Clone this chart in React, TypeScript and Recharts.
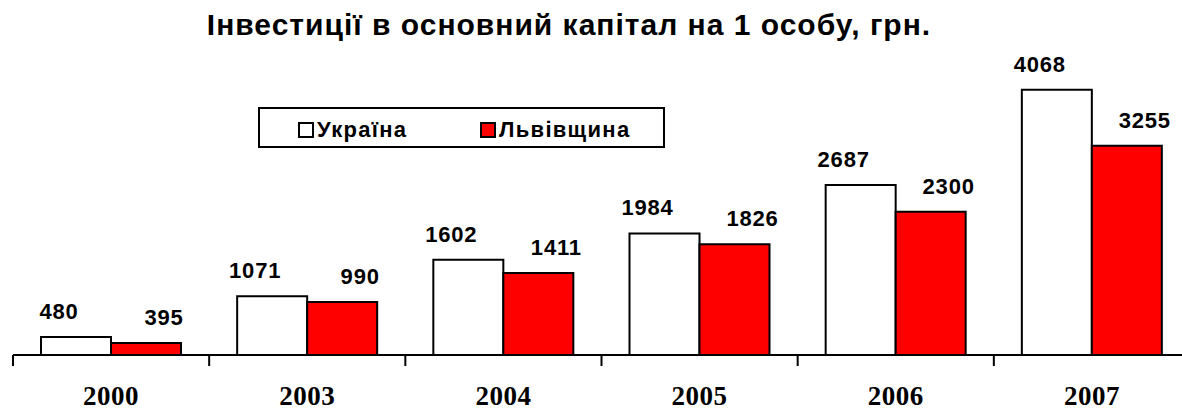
import { BarChart, Bar, XAxis, YAxis, LabelList } from 'recharts';

// Дані з діаграми
const years = ['2000', '2003', '2004', '2005', '2006', '2007'];
const ukraine = [480, 1071, 1602, 1984, 2687, 4068];
const lviv = [395, 990, 1411, 1826, 2300, 3255];
const seriesNames = ['Україна', 'Львівщина'];

const chartData = years.map((year, i) => ({
  year,
  ukraine: ukraine[i],
  lviv: lviv[i],
}));

const CHART_W = 1190;
const CHART_H = 412;
const LEFT = 13;
const BAND = (CHART_W - LEFT) / years.length;
const SANS = '"Liberation Sans", Arial, sans-serif';
const SERIF = '"Liberation Serif", "Times New Roman", serif';

// підпис значення над стовпцем, трохи зсунутий убік
const makeLabel = (dx: number) => (props: any) => {
  const { x, y, width, value } = props;
  return (
    <text
      x={x + width / 2 + dx}
      y={y - 18}
      textAnchor="middle"
      fontFamily={SANS}
      fontWeight="bold"
      fontSize={22}
      letterSpacing={0.8}
      fill="#000"
    >
      {value}
    </text>
  );
};

// рік під віссю + засічки між категоріями
const YearTick = (props: any) => {
  const { x, y, payload, index } = props;
  const left = x - BAND / 2;
  return (
    <g>
      <line x1={left} y1={y} x2={left} y2={y + 11} stroke="#000" strokeWidth={2} />
      {index === years.length - 1 && (
        <line x1={x + BAND / 2} y1={y} x2={x + BAND / 2} y2={y + 11} stroke="#000" strokeWidth={2} />
      )}
      <text
        x={x}
        y={y + 50}
        textAnchor="middle"
        fontFamily={SERIF}
        fontWeight="bold"
        fontSize={27}
        letterSpacing={0.5}
        fill="#000"
      >
        {payload.value}
      </text>
    </g>
  );
};

const legendItem = (name: string, color: string, left: number) => (
  <div
    style={{
      position: 'absolute',
      left,
      top: 10,
      display: 'flex',
      alignItems: 'center',
      fontFamily: SANS,
      fontWeight: 'bold',
      fontSize: 22,
      letterSpacing: 1.3,
      lineHeight: '22px',
    }}
  >
    <span
      style={{
        display: 'inline-block',
        width: 12,
        height: 12,
        background: color,
        border: '2px solid #000',
        marginRight: 3,
      }}
    />
    {name}
  </div>
);

export default function App() {
  return (
    <div
      style={{
        position: 'absolute',
        left: 0,
        top: 0,
        width: 1182,
        height: 412,
        overflow: 'hidden',
        background: '#fff',
      }}
    >
      <div
        style={{
          position: 'absolute',
          left: 0,
          top: 10,
          width: 1138,
          textAlign: 'center',
          fontFamily: SANS,
          fontWeight: 'bold',
          fontSize: 30,
          lineHeight: '30px',
          letterSpacing: 1,
        }}
      >
        Інвестиції в основний капітал на 1 особу, грн.
      </div>

      <BarChart
        width={CHART_W}
        height={CHART_H}
        data={chartData}
        margin={{ top: 60, right: 0, bottom: 0, left: LEFT }}
        barGap={0}
        barSize={70}
      >
        <XAxis
          dataKey="year"
          height={57}
          axisLine={{ stroke: '#000', strokeWidth: 2 }}
          tickLine={false}
          tickSize={0}
          tickMargin={0}
          tick={<YearTick />}
          interval={0}
        />
        <YAxis hide type="number" domain={[220, 4500]} allowDataOverflow />
        <Bar dataKey="ukraine" name={seriesNames[0]} fill="#fff" stroke="#000" strokeWidth={2} isAnimationActive={false}>
          <LabelList dataKey="ukraine" content={makeLabel(-17)} />
        </Bar>
        <Bar dataKey="lviv" name={seriesNames[1]} fill="#ff0000" stroke="#000" strokeWidth={2} isAnimationActive={false}>
          <LabelList dataKey="lviv" content={makeLabel(18)} />
        </Bar>
      </BarChart>

      <div
        style={{
          position: 'absolute',
          left: 258,
          top: 107,
          width: 403,
          height: 37,
          border: '2px solid #000',
          background: '#fff',
        }}
      >
        {legendItem(seriesNames[0], '#fff', 38)}
        {legendItem(seriesNames[1], '#ff0000', 220)}
      </div>
    </div>
  );
}
